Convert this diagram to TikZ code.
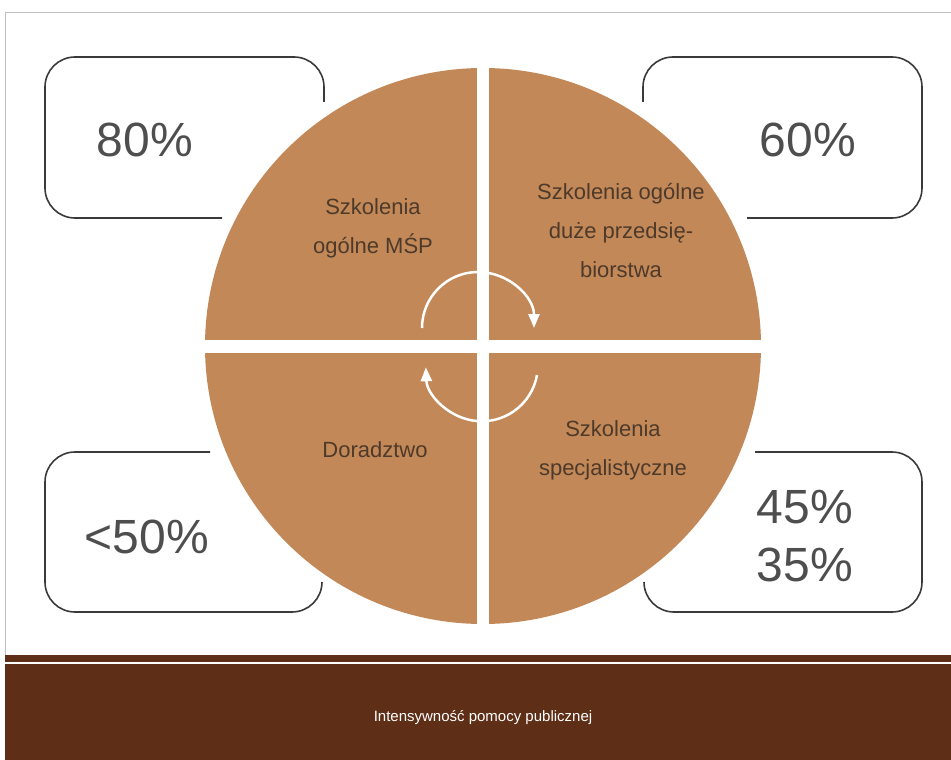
\documentclass[tikz,border=0pt]{standalone}
\usepackage{fontspec}
\setmainfont{Liberation Sans}
\usetikzlibrary{arrows.meta}
\definecolor{discfill}{RGB}{194,136,88}
\definecolor{bandfill}{RGB}{94,46,22}
\definecolor{ink}{RGB}{58,58,58}
\definecolor{pctink}{RGB}{78,78,78}
\definecolor{quadink}{RGB}{78,58,42}

\begin{document}
\begin{tikzpicture}[x=1pt, y=-1pt,
  frame/.style={draw=ink, line width=1.6pt, rounded corners=30pt},
  pct/.style={text=pctink, font=\fontsize{48}{58}\selectfont, align=center},
  quad/.style={text=quadink, font=\fontsize{22}{39}\selectfont, align=center},
  turn/.style={draw=white, line width=2.5pt, -{Triangle[length=14pt, width=11pt]}}]
\useasboundingbox (0,0) rectangle (951,760);
\draw[black!25, line width=0.8pt] (5,760) -- (5,12) -- (951,12);
\fill[discfill] (483,346) circle[radius=278];
\fill[white] (477,60) rectangle (489,632);
\fill[white] (197,339.5) rectangle (770,352.5);
\draw[turn] (422,328) arc[start angle=180, end angle=360, radius=56];
\draw[turn] (537,375) arc[start angle=10, end angle=178, radius=56];
\draw[frame] (324,102) -- (324,57) -- (45,57) -- (45,218) -- (222,218);
\draw[frame] (643,102) -- (643,57) -- (922,57) -- (922,218) -- (747,218);
\draw[frame] (210,452) -- (45,452) -- (45,612) -- (322,612) -- (322,582);
\draw[frame] (644,582) -- (644,612) -- (922,612) -- (922,452) -- (755,452);
\node[pct] (p80) at (145,140) {80\%};
\node[pct] (p60) at (808,140) {60\%};
\node[pct] (p50) at (147,537) {<50\%};
\node[pct] (p4535) at (805,536) {45\%\\35\%};
\node[quad] (msp) at (373,228) {Szkolenia\\ogólne MŚP};
\node[quad] (duze) at (621,231) {Szkolenia ogólne\\duże przedsię-\\biorstwa};
\node[quad] (dor) at (375,450) {Doradztwo};
\node[quad] (spec) at (613,450) {Szkolenia\\specjalistyczne};
\fill[bandfill] (5,655) rectangle (951,760);
\draw[white, line width=1.5pt] (5,663) -- (951,663);
\node[text=white, font=\fontsize{15}{18}\selectfont] (title) at (483,718) {Intensywność pomocy publicznej};
\end{tikzpicture}
\end{document}
